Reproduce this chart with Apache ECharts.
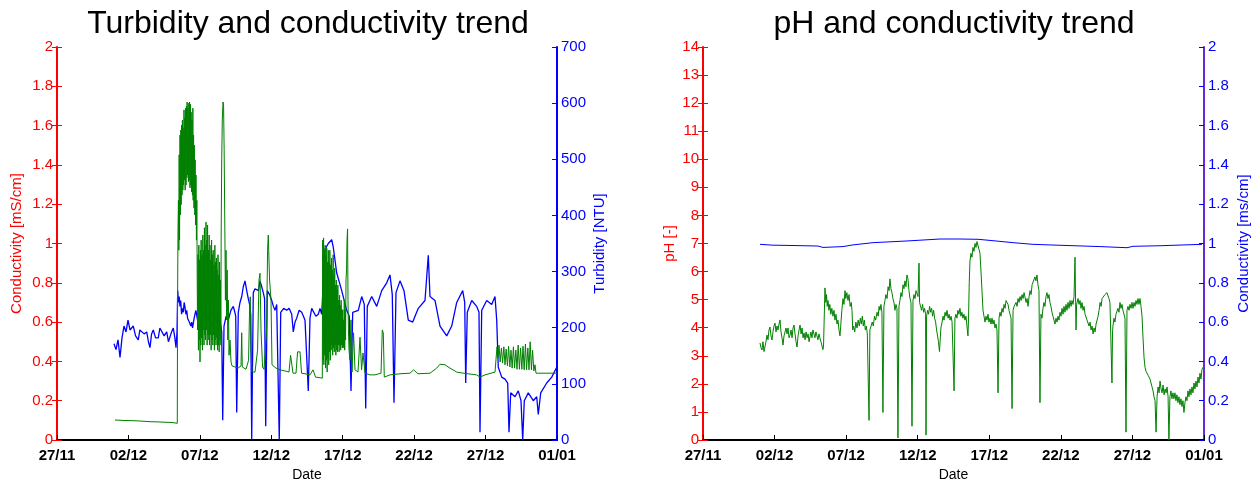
<!DOCTYPE html>
<html>
<head>
<meta charset="utf-8">
<script src="https://cdn.jsdelivr.net/npm/echarts@6/dist/echarts.min.js"></script>
<style>
html,body{margin:0;padding:0;background:#fff;}
#chart{width:1253px;height:481px;}
</style>
</head>
<body>
<div id="chart"></div>
<script>
// x axis: days since 27/11
const xTickLabels = ['27/11','02/12','07/12','12/12','17/12','22/12','27/12','01/01'];

// Left chart: conductivity [mS/cm] (blue, left axis)
const leftCond = [
[3.99,0.49],[4.13,0.46],[4.27,0.51],[4.41,0.42],[4.55,0.52],[4.69,0.58],[4.83,0.55],[4.97,0.61],[5.11,0.56],[5.34,0.58],
[5.50,0.53],[5.69,0.51],[5.80,0.56],[5.93,0.57],[6.10,0.54],[6.28,0.55],[6.40,0.50],[6.51,0.47],[6.62,0.54],[6.74,0.56],
[6.90,0.52],[7.09,0.52],[7.20,0.57],[7.33,0.56],[7.50,0.53],[7.68,0.55],[7.80,0.50],[7.91,0.51],[8.02,0.55],[8.14,0.57],
[8.25,0.52],[8.33,0.47],[8.40,0.55],
[8.45,0.76],[8.50,0.70],[8.55,0.73],[8.61,0.68],[8.66,0.71],[8.72,0.64],[8.78,0.67],[8.84,0.65],[8.90,0.70],[8.95,0.68],
[9.02,0.64],[9.08,0.66],[9.14,0.62],[9.20,0.63],[9.26,0.60],[9.31,0.61],[9.37,0.58],[9.43,0.60],[9.49,0.57],[9.54,0.58],
[9.60,0.62],[9.66,0.62],[9.72,0.66],[9.78,0.65],[9.84,0.61],[9.90,0.60],[9.96,0.57],[10.01,0.58],[10.13,0.61],[10.25,0.62],
[10.36,0.66],[10.48,0.65],[10.59,0.62],[10.70,0.61],[10.82,0.58],[10.94,0.60],[11.07,0.63],[11.20,0.62],[11.30,0.59],[11.41,0.61],
[11.53,0.55],[11.60,0.10],[11.69,0.58],[11.84,0.63],[11.99,0.61],[12.17,0.66],[12.34,0.68],[12.45,0.65],[12.51,0.63],[12.58,0.14],
[12.69,0.65],[12.81,0.70],[12.93,0.73],[13.04,0.78],[13.16,0.81],[13.28,0.76],[13.39,0.72],[13.48,0.69],[13.56,0.64],[13.63,0.00],
[13.74,0.75],[13.86,0.77],[13.98,0.78],[14.10,0.76],[14.21,0.81],[14.33,0.78],[14.44,0.75],[14.53,0.72],[14.61,0.07],[14.72,0.76],
[14.88,0.74],[15.03,0.71],[15.15,0.68],[15.26,0.66],[15.38,0.69],[15.49,0.70],[15.56,0.00],[15.66,0.65],[15.87,0.67],[16.08,0.66],
[16.25,0.67],[16.43,0.64],[16.54,0.55],[16.66,0.60],[16.78,0.62],[16.95,0.66],[17.13,0.65],[17.25,0.63],[17.36,0.61],[17.50,0.60],
[17.59,0.25],[17.71,0.62],[17.83,0.67],[17.94,0.66],[18.12,0.63],[18.29,0.64],[18.41,0.67],[18.53,0.64],[18.64,0.80],[18.76,0.97],
[18.99,1.00],[19.23,1.02],[19.34,0.98],[19.58,0.85],[19.93,0.76],[20.28,0.66],[20.46,0.63],[20.58,0.25],[20.70,0.65],[21.09,0.66],
[21.33,0.73],[21.51,0.69],[21.61,0.16],[21.72,0.68],[22.03,0.73],[22.38,0.68],[22.73,0.76],[23.08,0.80],[23.31,0.84],[23.47,0.74],
[23.59,0.19],[23.73,0.75],[24.01,0.81],[24.29,0.76],[24.59,0.61],[24.90,0.60],[25.29,0.67],[25.76,0.71],[25.99,0.94],[26.11,0.73],
[26.46,0.71],[26.81,0.58],[27.28,0.53],[27.63,0.58],[27.98,0.70],[28.40,0.76],[28.54,0.70],[28.61,0.29],[28.72,0.65],[29.03,0.71],
[29.38,0.68],[29.54,0.65],[29.61,0.04],[29.73,0.66],[30.08,0.71],[30.43,0.69],[30.66,0.73],[30.78,0.61],[30.89,0.37],[31.13,0.32],
[31.36,0.31],[31.55,0.29],[31.64,0.04],[31.76,0.24],[32.06,0.22],[32.29,0.25],[32.48,0.20],[32.60,0.00],[32.71,0.20],[32.99,0.24],
[33.34,0.20],[33.58,0.22],[33.69,0.13],[33.86,0.24],[34.28,0.29],[34.63,0.32],[34.98,0.37]
];

// Left chart: turbidity [NTU] (green, right axis)
const leftTurb = [
[4.06,35.6],[4.76,34.7],[5.32,34.4],[5.81,33.8],[6.51,32.6],[7.21,32.1],[7.70,31.5],[8.05,31.2],[8.42,29.7],
[8.44,249],[8.47,374],[8.50,427],[8.53,338],[8.55,508],[8.58,356],[8.61,543],[8.64,401],[8.67,552],[8.69,419],[8.72,561],
[8.75,436],[8.78,570],[8.81,445],[8.83,556],[8.86,454],[8.89,588],[8.92,463],[8.95,574],[8.97,445],[9.00,591],
[9.03,454],[9.06,595],[9.09,467],[9.11,602],[9.14,472],[9.17,591],[9.20,460],[9.23,600],[9.25,463],[9.28,602],
[9.31,449],[9.34,598],[9.37,454],[9.39,584],[9.42,442],[9.45,570],[9.48,436],[9.51,591],[9.53,427],[9.56,543],
[9.59,413],[9.62,525],[9.65,401],[9.67,499],[9.70,383],[9.73,472],[9.76,356],[9.79,427],[9.81,303],
[9.84,196],[9.87,330],[9.90,160],[9.93,347],[9.95,178],[9.98,321],[10.01,139],[10.04,338],[10.07,169],[10.09,356],
[10.12,182],[10.15,330],[10.18,160],[10.21,365],[10.23,196],[10.26,338],[10.29,169],[10.32,378],[10.35,187],[10.37,347],
[10.40,178],[10.43,388],[10.46,196],[10.49,356],[10.51,169],[10.54,383],[10.57,187],[10.60,338],[10.63,178],[10.65,365],
[10.68,169],[10.71,347],[10.74,187],[10.77,321],[10.79,160],[10.82,356],[10.85,178],[10.88,330],[10.91,169],[10.93,338],
[10.96,187],[10.99,312],[11.02,160],[11.05,347],[11.07,178],[11.10,317],[11.13,169],[11.16,324],[11.19,182],[11.21,303],
[11.24,160],[11.27,330],[11.30,169],[11.33,294],[11.35,157],[11.38,317],[11.41,178],[11.44,285],[11.47,169],[11.49,356],
[11.53,499],[11.57,570],[11.62,602],[11.66,597],[11.70,517],[11.75,374],[11.79,249],[11.83,338],[11.87,214],[11.91,303],
[11.96,178],[12.00,249],[12.04,151],[12.11,178],[12.18,139],[12.25,132],
[12.39,130],[12.67,128],[12.88,132],[12.93,191],[12.97,130],[13.23,126],[13.41,142],[13.48,232],[13.53,255],[13.58,160],
[13.65,121],[13.86,121],[14.04,160],[14.14,285],[14.21,297],[14.28,196],[14.39,130],[14.49,126],[14.67,196],[14.74,338],
[14.79,365],[14.88,285],[14.98,249],[15.05,134],[15.33,128],[15.61,125],[15.96,123],[16.24,121],[16.35,151],[16.45,150],
[16.52,119],[16.73,119],[16.84,157],[17.01,157],[17.12,119],[17.36,118],[17.71,116],[17.92,125],[18.03,125],[18.10,112],
[18.41,111],[18.57,110],
[18.60,356],[18.63,142],[18.66,360],[18.68,134],[18.71,338],[18.74,151],[18.77,347],[18.80,128],[18.82,330],[18.85,142],
[18.88,342],[18.91,121],[18.94,317],[18.96,146],[18.99,338],[19.02,134],[19.05,317],[19.08,157],[19.10,338],[19.13,142],
[19.16,312],[19.19,160],[19.22,324],[19.24,169],[19.27,303],[19.30,151],[19.33,330],[19.36,164],[19.38,294],[19.41,157],
[19.44,306],[19.47,169],[19.50,276],[19.52,151],[19.55,285],[19.58,160],[19.61,267],[19.64,157],[19.66,276],[19.69,169],
[19.72,249],[19.75,157],[19.78,258],[19.80,169],[19.83,240],[19.86,160],[19.89,249],[19.92,169],[19.94,232],[19.97,164],
[20.00,232],[20.03,167],[20.06,214],[20.08,164],[20.11,249],[20.14,160],[20.17,232],[20.20,178],[20.23,285],[20.27,303],
[20.30,356],[20.34,376],[20.37,249],[20.40,196],[20.44,160],
[20.51,142],[20.58,214],[20.65,121],[20.76,191],[20.86,125],[21.07,121],[21.21,183],[21.32,125],[21.42,155],[21.56,119],
[21.91,116],[22.26,116],[22.68,119],[22.77,196],[22.84,191],[22.91,112],[23.31,116],[24.01,118],[24.71,119],[24.96,125],
[25.27,118],[26.11,119],[26.58,128],[26.81,135],[27.16,134],[27.51,128],[27.98,121],[28.44,119],[29.38,116],[29.61,112],
[29.96,116],[30.66,121],
[30.80,166],[30.87,146],[30.94,169],[31.02,139],[31.11,164],[31.19,137],[31.28,166],[31.36,134],[31.44,162],[31.53,132],
[31.61,167],[31.70,130],[31.78,160],[31.86,128],[31.95,166],[32.03,128],[32.12,160],[32.20,126],[32.28,169],[32.37,126],
[32.45,164],[32.54,126],[32.62,167],[32.70,125],[32.79,171],[32.87,125],[32.96,164],[33.04,125],[33.12,175],[33.21,125],
[33.29,160],[33.38,123],[33.46,134],[33.53,119],[33.81,119],[34.16,119],[34.51,119],[35.00,119]
];

// Right chart: pH [-] (blue, left axis)
const rightPh = [
[3.98,6.97],[4.89,6.94],[6.08,6.93],[8.03,6.91],[8.38,6.86],[9.78,6.89],[10.48,6.95],[11.88,7.03],[14.25,7.09],[16.56,7.16],
[17.95,7.16],[19.21,7.15],[20.26,7.10],[21.66,7.03],[23.05,6.97],[24.73,6.94],[27.74,6.89],[29.62,6.85],[30.04,6.90],[31.93,6.92],
[34.86,6.97]
];

// Right chart: conductivity [ms/cm] (green, right axis)
const rightCond = [
[3.98,0.494],[4.05,0.47],[4.12,0.458],[4.19,0.50],[4.26,0.45],[4.33,0.443],[4.40,0.50],[4.47,0.534],[4.54,0.51],[4.61,0.56],
[4.68,0.575],[4.75,0.53],[4.82,0.509],[4.89,0.55],[4.96,0.58],[5.03,0.595],[5.10,0.55],[5.17,0.58],[5.24,0.560],[5.31,0.59],
[5.38,0.611],[5.45,0.55],[5.52,0.52],[5.59,0.483],[5.66,0.53],[5.73,0.55],[5.80,0.570],[5.87,0.54],[5.94,0.57],[6.01,0.52],
[6.08,0.534],[6.15,0.56],[6.22,0.52],[6.29,0.57],[6.36,0.585],[6.43,0.54],[6.50,0.50],[6.57,0.473],[6.64,0.53],[6.71,0.56],
[6.78,0.585],[6.85,0.54],[6.92,0.57],[6.99,0.52],[7.06,0.545],[7.13,0.51],[7.20,0.55],[7.27,0.52],[7.34,0.54],[7.41,0.50],
[7.47,0.509],[7.54,0.55],[7.61,0.52],[7.68,0.56],[7.75,0.560],[7.82,0.52],[7.89,0.55],[7.96,0.545],[8.03,0.51],[8.10,0.54],
[8.17,0.519],[8.24,0.50],[8.31,0.494],[8.38,0.46],[8.42,0.478],
[8.52,0.774],[8.58,0.70],[8.63,0.74],[8.68,0.68],[8.73,0.71],[8.80,0.66],[8.86,0.69],[8.93,0.64],[9.00,0.67],[9.08,0.63],
[9.15,0.66],[9.22,0.61],[9.29,0.64],[9.36,0.59],[9.43,0.61],[9.50,0.56],[9.57,0.53],[9.62,0.58],[9.70,0.66],[9.78,0.72],
[9.85,0.69],[9.92,0.76],[9.98,0.72],[10.05,0.75],[10.13,0.71],[10.20,0.74],[10.28,0.68],[10.36,0.70],[10.41,0.66],[10.46,0.56],
[10.52,0.58],[10.60,0.55],[10.68,0.60],[10.76,0.57],[10.84,0.61],[10.92,0.58],[10.99,0.62],[11.06,0.59],[11.13,0.63],[11.20,0.58],
[11.27,0.61],[11.34,0.56],[11.41,0.58],[11.48,0.54],[11.53,0.55],[11.60,0.10],[11.66,0.56],[11.74,0.58],[11.82,0.60],[11.90,0.58],
[11.98,0.63],[12.06,0.61],[12.16,0.65],[12.24,0.63],[12.30,0.68],[12.36,0.66],[12.43,0.69],[12.50,0.65],[12.57,0.14],[12.64,0.68],
[12.71,0.71],[12.78,0.74],[12.86,0.72],[12.93,0.78],[13.00,0.76],[13.06,0.82],[13.13,0.77],[13.20,0.75],[13.27,0.72],[13.34,0.70],
[13.41,0.66],[13.48,0.69],[13.55,0.67],[13.62,0.01],[13.69,0.68],[13.76,0.71],[13.83,0.75],[13.90,0.73],[13.97,0.79],[14.04,0.77],
[14.11,0.81],[14.18,0.78],[14.25,0.84],[14.32,0.82],[14.39,0.76],[14.46,0.72],[14.53,0.70],[14.60,0.07],[14.67,0.71],[14.74,0.74],
[14.81,0.72],[14.88,0.76],[14.95,0.75],[15.02,0.73],[15.09,0.90],[15.13,0.70],[15.20,0.69],[15.27,0.66],[15.34,0.69],[15.41,0.65],
[15.48,0.67],[15.55,0.64],[15.58,0.025],[15.62,0.63],[15.69,0.66],[15.76,0.64],[15.83,0.68],[15.90,0.65],[15.97,0.67],[16.04,0.63],
[16.11,0.66],[16.18,0.62],[16.25,0.60],[16.32,0.56],[16.39,0.55],[16.45,0.50],[16.52,0.45],[16.56,0.44],[16.62,0.57],[16.70,0.60],
[16.77,0.63],[16.84,0.61],[16.91,0.65],[16.98,0.63],[17.05,0.66],[17.12,0.62],[17.19,0.64],[17.26,0.61],[17.33,0.63],[17.40,0.60],
[17.47,0.61],[17.54,0.25],[17.60,0.62],[17.67,0.64],[17.74,0.62],[17.81,0.66],[17.88,0.64],[17.95,0.67],[18.02,0.63],[18.09,0.65],
[18.16,0.62],[18.23,0.64],[18.30,0.61],[18.37,0.63],[18.44,0.58],[18.51,0.53],[18.55,0.62],[18.60,0.80],[18.65,0.91],[18.72,0.95],
[18.79,0.93],[18.86,0.98],[18.93,0.96],[19.00,1.00],[19.07,0.98],[19.14,1.01],[19.21,1.02],[19.28,0.97],[19.35,0.95],[19.42,0.86],
[19.49,0.76],[19.56,0.66],[19.63,0.63],[19.70,0.60],[19.77,0.63],[19.84,0.61],[19.91,0.64],[19.98,0.60],[20.05,0.62],[20.12,0.59],
[20.19,0.62],[20.26,0.59],[20.33,0.61],[20.40,0.57],[20.47,0.59],[20.54,0.56],[20.61,0.24],[20.68,0.62],[20.75,0.65],[20.82,0.63],
[20.89,0.67],[20.96,0.65],[21.03,0.69],[21.10,0.67],[21.17,0.71],[21.24,0.72],[21.31,0.69],[21.38,0.66],[21.45,0.64],[21.52,0.62],
[21.59,0.16],[21.66,0.66],[21.73,0.68],[21.80,0.67],[21.87,0.70],[21.94,0.68],[22.01,0.72],[22.08,0.70],[22.15,0.73],[22.22,0.71],
[22.29,0.74],[22.36,0.72],[22.43,0.75],[22.50,0.74],[22.57,0.70],[22.64,0.72],[22.71,0.68],[22.78,0.73],[22.85,0.76],[22.92,0.74],
[22.99,0.79],[23.05,0.80],[23.12,0.78],[23.19,0.83],[23.26,0.81],[23.33,0.84],[23.40,0.79],[23.47,0.76],[23.54,0.19],[23.61,0.64],
[23.68,0.62],[23.75,0.67],[23.82,0.70],[23.89,0.68],[23.96,0.73],[24.03,0.75],[24.10,0.72],[24.17,0.74],[24.24,0.70],[24.31,0.68],
[24.38,0.65],[24.45,0.63],[24.52,0.61],[24.59,0.59],[24.66,0.62],[24.73,0.60],[24.80,0.63],[24.87,0.61],[24.94,0.65],[25.01,0.63],
[25.08,0.67],[25.15,0.64],[25.22,0.68],[25.29,0.65],[25.36,0.69],[25.43,0.66],[25.50,0.70],[25.57,0.67],[25.64,0.71],[25.71,0.68],
[25.78,0.71],[25.85,0.69],[25.92,0.73],[25.99,0.93],[26.03,0.70],[26.06,0.56],[26.10,0.69],[26.20,0.72],[26.27,0.69],[26.34,0.71],
[26.41,0.67],[26.48,0.70],[26.55,0.66],[26.62,0.68],[26.69,0.64],[26.76,0.65],[26.83,0.61],[26.90,0.62],[26.97,0.58],[27.04,0.60],
[27.11,0.56],[27.18,0.58],[27.25,0.54],[27.32,0.57],[27.39,0.55],[27.46,0.59],[27.53,0.58],[27.60,0.63],[27.67,0.66],[27.74,0.70],
[27.81,0.68],[27.88,0.72],[27.94,0.73],[28.01,0.71],[28.08,0.74],[28.15,0.73],[28.22,0.75],[28.29,0.75],[28.36,0.72],[28.43,0.70],
[28.50,0.69],[28.57,0.29],[28.61,0.55],[28.64,0.58],[28.71,0.62],[28.78,0.60],[28.85,0.64],[28.92,0.63],[28.99,0.67],[29.06,0.65],
[29.13,0.70],[29.20,0.67],[29.27,0.69],[29.34,0.66],[29.41,0.65],[29.48,0.62],[29.55,0.04],[29.62,0.66],[29.69,0.68],[29.76,0.66],
[29.83,0.69],[29.90,0.67],[29.97,0.70],[30.04,0.67],[30.11,0.70],[30.18,0.68],[30.25,0.71],[30.32,0.69],[30.39,0.72],[30.46,0.69],
[30.53,0.72],[30.60,0.68],[30.67,0.63],[30.74,0.52],[30.81,0.42],[30.88,0.37],[30.95,0.35],[31.02,0.36],[31.09,0.33],[31.16,0.34],
[31.23,0.31],[31.30,0.29],[31.37,0.27],[31.44,0.25],[31.51,0.22],[31.58,0.20],[31.65,0.04],[31.72,0.22],[31.79,0.27],[31.86,0.24],
[31.93,0.30],[32.00,0.26],[32.07,0.24],[32.14,0.28],[32.21,0.23],[32.28,0.26],[32.35,0.24],[32.42,0.27],[32.49,0.22],[32.55,0.00],
[32.62,0.22],[32.69,0.25],[32.76,0.21],[32.83,0.24],[32.90,0.21],[32.97,0.24],[33.04,0.20],[33.11,0.23],[33.18,0.19],[33.25,0.22],
[33.32,0.18],[33.39,0.21],[33.46,0.17],[33.53,0.20],[33.60,0.14],[33.67,0.19],[33.74,0.22],[33.81,0.20],[33.88,0.25],[33.95,0.22],
[34.02,0.26],[34.09,0.23],[34.16,0.27],[34.23,0.24],[34.30,0.29],[34.37,0.26],[34.44,0.30],[34.51,0.27],[34.58,0.32],[34.65,0.29],
[34.72,0.34],[34.79,0.31],[34.86,0.36],[34.93,0.37]
];

const FONT = 'Liberation Sans, Arial, sans-serif';
const RED = '#ff0000', BLUE = '#0000ff', GREEN = '#008000', PURPLE = '#6a2ad8';

function xBottom(gi) {
  return {
    type: 'value', gridIndex: gi, min: 0, max: 35, interval: 5, position: 'bottom',
    name: 'Date', nameLocation: 'middle', nameGap: 26,
    nameTextStyle: { color: '#000', fontSize: 14, fontFamily: FONT },
    axisLine: { lineStyle: { color: '#000', width: 2 } },
    axisTick: { inside: true, length: 5, lineStyle: { color: '#000', width: 1 } },
    axisLabel: { color: '#000', fontSize: 15, fontWeight: 'bold', fontFamily: FONT, margin: 8,
      formatter: v => xTickLabels[Math.round(v / 5)] },
    splitLine: { show: false }
  };
}
function xTop(gi) {
  return {
    type: 'value', gridIndex: gi, min: 0, max: 35, position: 'top',
    axisLine: { lineStyle: { color: '#000', width: 1.5 } },
    axisTick: { show: false }, axisLabel: { show: false }, splitLine: { show: false }
  };
}
function yAx(gi, pos, min, max, interval, color, name, nameGap, lineColor) {
  return {
    type: 'value', gridIndex: gi, position: pos, min, max, interval,
    name, nameLocation: 'middle', nameGap, nameRotate: 90,
    nameTextStyle: { color, fontSize: 15, fontFamily: FONT },
    axisLine: { show: true, lineStyle: { color: lineColor || color, width: 2 } },
    axisTick: { inside: true, length: 5, lineStyle: { color, width: 1 } },
    axisLabel: { color, fontSize: 15, fontFamily: FONT, margin: 4 },
    splitLine: { show: false }
  };
}
function yMirror(gi, min, max, interval) {
  return {
    type: 'value', gridIndex: gi, position: 'right', min, max, interval,
    axisLine: { show: false },
    axisTick: { show: true, inside: true, length: 5, lineStyle: { color: RED, width: 1 } },
    axisLabel: { show: false }, splitLine: { show: false }
  };
}

const option = {
  animation: false,
  backgroundColor: '#fff',
  title: [
    { text: 'Turbidity and conductivity trend', left: 303, top: 3, textAlign: 'center',
      textStyle: { fontSize: 32, fontWeight: 'normal', color: '#000', fontFamily: FONT } },
    { text: 'pH and conductivity trend', left: 949, top: 3, textAlign: 'center',
      textStyle: { fontSize: 32, fontWeight: 'normal', color: '#000', fontFamily: FONT } }
  ],
  grid: [
    { left: 57, top: 47, width: 500, height: 393, containLabel: false, outerBoundsMode: 'none' },
    { left: 703, top: 47, width: 501, height: 393, containLabel: false, outerBoundsMode: 'none' }
  ],
  xAxis: [ xBottom(0), xTop(0), xBottom(1), xTop(1) ],
  yAxis: [
    yMirror(0, 0, 2, 0.2),
    yAx(0, 'left', 0, 2, 0.2, RED, 'Conductivity [mS/cm]', 33),
    yAx(0, 'right', 0, 700, 100, BLUE, 'Turbidity [NTU]', 35),
    yMirror(1, 0, 14, 1),
    yAx(1, 'left', 0, 14, 1, RED, 'pH [-]', 26),
    yAx(1, 'right', 0, 2, 0.2, BLUE, 'Conductivity [ms/cm]', 32, PURPLE)
  ],
  series: [
    { type: 'line', xAxisIndex: 0, yAxisIndex: 1, data: leftCond, showSymbol: false,
      lineStyle: { color: BLUE, width: 1.3 }, itemStyle: { color: BLUE } },
    { type: 'line', xAxisIndex: 0, yAxisIndex: 2, data: leftTurb, showSymbol: false,
      lineStyle: { color: GREEN, width: 1 }, itemStyle: { color: GREEN } },
    { type: 'line', xAxisIndex: 2, yAxisIndex: 4, data: rightPh, showSymbol: false,
      lineStyle: { color: BLUE, width: 1 }, itemStyle: { color: BLUE } },
    { type: 'line', xAxisIndex: 2, yAxisIndex: 5, data: rightCond, showSymbol: false,
      lineStyle: { color: GREEN, width: 1 }, itemStyle: { color: GREEN } }
  ]
};

const chart = echarts.init(document.getElementById('chart'), null, { renderer: 'canvas' });
chart.setOption(option);
</script>
</body>
</html>
